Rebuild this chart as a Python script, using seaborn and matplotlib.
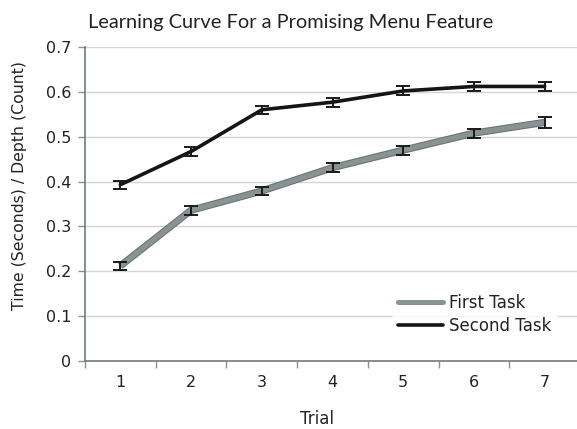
import numpy as np
import pandas as pd
import matplotlib
matplotlib.use("Agg")
import matplotlib.pyplot as plt
import matplotlib.patheffects as pe
from matplotlib.lines import Line2D
import seaborn as sns

trials = [1, 2, 3, 4, 5, 6, 7]
first_task = [0.212, 0.336, 0.379, 0.431, 0.470, 0.508, 0.532]
second_task = [0.393, 0.467, 0.560, 0.577, 0.602, 0.612, 0.612]
first_err = [0.009, 0.010, 0.009, 0.010, 0.010, 0.010, 0.012]
second_err = [0.009, 0.009, 0.009, 0.010, 0.010, 0.011, 0.011]
series_names = ["First Task", "Second Task"]
y_ticks = [0, 0.1, 0.2, 0.3, 0.4, 0.5, 0.6, 0.7]
y_tick_labels = ["0", "0.1", "0.2", "0.3", "0.4", "0.5", "0.6", "0.7"]

df = pd.DataFrame({
    "Trial": trials * 2,
    "Value": first_task + second_task,
    "Task": [series_names[0]] * 7 + [series_names[1]] * 7,
})

sns.set_theme(style="white")
plt.rcParams["font.family"] = ["DejaVu Sans"]

fig = plt.figure(figsize=(5.77, 4.29), dpi=100)
ax = fig.add_axes([0.1473, 0.1585, 0.858, 0.732])

gray = "#8a9393"
gray_fx = [pe.Stroke(linewidth=5.2, foreground="#6c7474"), pe.Normal()]

sns.lineplot(data=df[df.Task == series_names[0]], x="Trial", y="Value", ax=ax,
             color=gray, linewidth=3.6, legend=False, zorder=3)
ax.lines[-1].set_path_effects(gray_fx)
ax.lines[-1].set_solid_capstyle("butt")
sns.lineplot(data=df[df.Task == series_names[1]], x="Trial", y="Value", ax=ax,
             color="#151515", linewidth=2.6, legend=False, zorder=4)

ax.errorbar(trials, first_task, yerr=first_err, fmt="none", ecolor="#1a1a1a",
            elinewidth=1.4, capsize=5, capthick=1.4, zorder=5)
ax.errorbar(trials, second_task, yerr=second_err, fmt="none", ecolor="#1a1a1a",
            elinewidth=1.4, capsize=5, capthick=1.4, zorder=5)

ax.set_xlim(0.5, 7.5)
ax.set_ylim(0, 0.7)
ax.set_yticks(y_ticks)
ax.set_yticklabels(y_tick_labels)
ax.set_xticks(trials)
ax.set_xticks(np.arange(0.5, 8.0, 1.0), minor=True)
ax.tick_params(axis="x", which="major", length=0, pad=10, labelsize=11.5, colors="#222222")
ax.tick_params(axis="x", which="minor", length=5, width=1, color="#8a9090", direction="out", bottom=True)
ax.tick_params(axis="y", which="major", length=5, width=1, color="#8a9090", direction="out", left=True,
               labelsize=11.5, labelcolor="#222222", pad=5)

ax.yaxis.grid(True, color="#d4d4d4", linewidth=1)
ax.set_axisbelow(True)
for side in ["top", "right"]:
    ax.spines[side].set_visible(False)
for side in ["left", "bottom"]:
    ax.spines[side].set_color("#737b7b")
    ax.spines[side].set_linewidth(1.2)

ax.set_xlabel("Trial", fontsize=12, color="#222222")
ax.xaxis.set_label_coords(0.469, -0.155)
ax.set_ylabel("Time (Seconds) / Depth (Count)", fontsize=11.3, color="#222222")
ax.yaxis.set_label_coords(-0.117, 0.56)
ax.set_title("Learning Curve For a Promising Menu Feature", fontsize=14.4,
             family=["Lato", "DejaVu Sans"], color="#222222", pad=14, x=0.415)

handles = [
    Line2D([0], [0], color=gray, linewidth=3.6),
    Line2D([0], [0], color="#151515", linewidth=2.6),
]
leg = ax.legend(handles, series_names, loc="lower right", bbox_to_anchor=(0.97, 0.04),
                frameon=True, fontsize=12, handlelength=2.7, handletextpad=0.4,
                labelspacing=0.3, borderpad=0.3)
leg.get_frame().set_facecolor("white")
leg.get_frame().set_edgecolor("white")
for t in leg.get_texts():
    t.set_color("#222222")

fig.savefig("out.png", dpi=100)
